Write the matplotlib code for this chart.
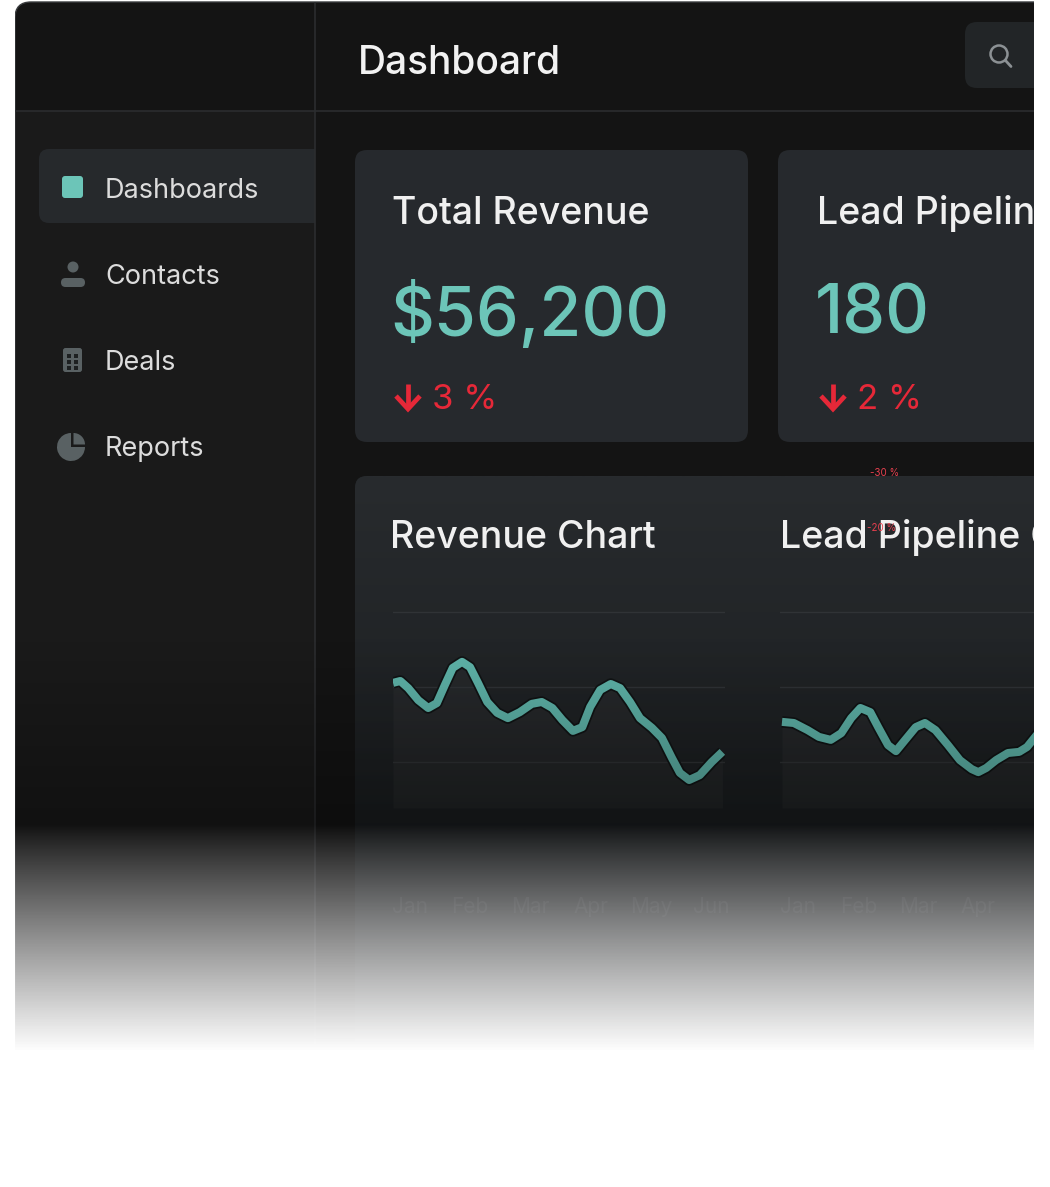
import numpy as np
import matplotlib
matplotlib.use("Agg")
import matplotlib.pyplot as plt
from matplotlib.patches import FancyBboxPatch, Rectangle, Circle, Wedge
import matplotlib.patheffects as pe

plt.rcParams['font.family'] = ['Inter', 'DejaVu Sans']

W, H = 1050, 1187

# ---- data ----
page_title = "Dashboard"
nav_items = ["Dashboards", "Contacts", "Deals", "Reports"]
kpi_titles = ["Total Revenue", "Lead Pipeline"]
kpi_values = ["$56,200", "180"]
kpi_changes = ["3 %", "2 %"]
chart_titles = ["Revenue Chart", "Lead Pipeline Chart"]
months = ["Jan", "Feb", "Mar", "Apr", "May", "Jun"]
month_pos = [0.25, 1.16, 2.07, 2.98, 3.89, 4.8]
stray_labels = ["-30 %", "-20 %"]
grid_vals = [20, 40, 60]

rev_x = [0.0, 0.11, 0.23, 0.38, 0.53, 0.66, 0.78, 0.9, 1.04, 1.16, 1.28, 1.42,
         1.57, 1.73, 1.91, 2.09, 2.24, 2.4, 2.55, 2.71, 2.85, 2.97, 3.12, 3.28,
         3.42, 3.57, 3.72, 3.9, 4.05, 4.2, 4.32, 4.46, 4.62, 4.8, 4.96]
rev_y = [41.1, 41.6, 39.7, 36.5, 34.4, 35.7, 40.5, 45.1, 46.7, 45.3, 41.1, 36.0,
         33.1, 31.7, 33.3, 35.5, 36.0, 34.4, 31.2, 28.3, 29.3, 34.7, 39.2, 40.8,
         39.7, 36.0, 31.7, 29.1, 26.4, 21.1, 17.1, 15.2, 16.5, 20.0, 22.7]

lead_x = [0.0, 0.18, 0.39, 0.56, 0.74, 0.9, 1.05, 1.19, 1.34, 1.46, 1.61, 1.73,
          1.87, 2.03, 2.17, 2.33, 2.52, 2.7, 2.88, 2.98, 3.1, 3.25, 3.43, 3.6,
          3.72, 3.89]
lead_y = [30.7, 30.4, 28.5, 26.7, 25.9, 27.7, 31.7, 34.4, 33.3, 29.3, 24.5, 22.9,
          25.9, 29.3, 30.4, 28.5, 24.5, 20.5, 18.1, 17.3, 18.4, 20.5, 22.4, 22.7,
          24.0, 27.7]

TEAL = "#6cc5b8"
RED = "#e62838"
ICON = "#596163"
LINE = "#2b2d2f"


def frac(x0, y0, x1, y1):
    return [x0 / W, 1 - y1 / H, (x1 - x0) / W, (y1 - y0) / H]


def rbox(ax, x, y, w, h, r, fc, **kw):
    p = FancyBboxPatch((x, y), w, h, boxstyle="round,pad=0,rounding_size=%g" % r,
                       fc=fc, ec=kw.pop("ec", "none"), **kw)
    ax.add_patch(p)
    return p


def down_arrow(ax, x, y):
    ax.plot([x, x], [y - 13, y + 11], color=RED, lw=3.4, solid_capstyle="butt")
    ax.plot([x - 12, x, x + 12], [y - 1, y + 12, y - 1], color=RED, lw=3.4,
            solid_joinstyle="miter", solid_capstyle="butt")


fig = plt.figure(figsize=(W / 100, H / 100), dpi=100)
fig.patch.set_facecolor("white")

bg = fig.add_axes([0, 0, 1, 1])
bg.set_xlim(0, W)
bg.set_ylim(H, 0)
bg.axis("off")

# window frame
rbox(bg, 15, 2, 1200, 1400, 16, "#141414", ec="#3a3c3e", lw=1)
bg.add_patch(Rectangle((15.5, 111), 299.5, H, fc="#1a1a1a", ec="none"))
bg.plot([15, W], [111, 111], color=LINE, lw=1.2)
bg.plot([315, 315], [2.5, H], color=LINE, lw=1.2)

# header
bg.text(358, 64, page_title, fontsize=28, color="#f2f2f2", va="center", fontweight="medium")
rbox(bg, 965, 22, 150, 66, 12, "#222527")
bg.add_patch(Circle((999, 54), 8.5, fill=False, ec="#8c9194", lw=1.8))
bg.plot([1005.5, 1011], [60.5, 66.5], color="#8c9194", lw=2, solid_capstyle="round")

# sidebar
hl = rbox(bg, 39, 149, 300, 74, 10, "#26292c")
hl.set_clip_path(Rectangle((0, 0), 314.5, H, transform=bg.transData))
rbox(bg, 62, 176, 21, 22, 3, TEAL)
nav_y = [191, 277, 363, 449]
for label, yy in zip(nav_items, nav_y):
    bg.text(105, yy, label, fontsize=19.5, color="#dcdcdc", va="center")
# contacts icon
bg.add_patch(Circle((73, 267), 5.5, fc=ICON, ec="none"))
rbox(bg, 61, 278, 24, 9, 4.5, ICON)
# deals icon
rbox(bg, 63, 348, 19, 24, 2.5, ICON)
for cx in (67, 74):
    for cy in (354, 360, 366):
        bg.add_patch(Rectangle((cx, cy), 4, 4, fc="#1d2021", ec="none"))
# reports icon
bg.add_patch(Wedge((71, 447), 14, 0, 270, fc=ICON, ec="none"))
bg.add_patch(Wedge((73.5, 444.5), 11.5, 270, 360, fc=ICON, ec="none"))

# kpi cards
card_x = [355, 778]
for i, cx in enumerate(card_x):
    rbox(bg, cx, 150, 393 if i == 0 else 400, 292, 12, "#26292d")
    tx = cx + 37 if i == 0 else cx + 39
    bg.text(tx, 214, kpi_titles[i], fontsize=27, color="#f0f0f0", va="center",
            fontweight="medium")
    bg.text(tx - 2, 316, kpi_values[i], fontsize=49, color=TEAL, va="center",
            fontweight="medium")
    down_arrow(bg, tx + 16, 397)
    bg.text(tx + 40, 400, kpi_changes[i], fontsize=25, color=RED, va="center")

# chart card with vertical gradient
chart_card = rbox(bg, 355, 476, 800, 900, 12, "#1b1e20")
c_top = np.array([0x28, 0x2b, 0x2e]) / 255
c_bot = np.array([0x1b, 0x1e, 0x20]) / 255
t = np.linspace(0, 1, 200)[:, None, None]
grad = c_top * (1 - t) + c_bot * t
im = bg.imshow(grad, extent=(355, 1155, 830, 476), aspect="auto", origin="upper",
               interpolation="bilinear", zorder=1.5)
im.set_clip_path(chart_card)

bg.text(390, 538, chart_titles[0], fontsize=27, color="#f0f0f0", va="center",
        fontweight="medium", zorder=3)
bg.text(780, 538, chart_titles[1], fontsize=27, color="#f0f0f0", va="center",
        fontweight="medium", zorder=3)
bg.text(885, 473, stray_labels[0], fontsize=7, color="#e8404f", ha="center", va="center", zorder=4)
bg.text(882, 528, stray_labels[1], fontsize=7, color="#e8404f", ha="center", va="center", zorder=4)

bg.set_xlim(0, W)
bg.set_ylim(H, 0)

# line charts
px_per_month = 66.4
y_lo = (837 - 808) / 3.75
y_hi = (837 - 600) / 3.75
specs = [
    (frac(393, 600, 725, 808), rev_x, rev_y, (0, 332 / px_per_month), 6),
    (frac(780, 600, 1034, 808), lead_x, lead_y,
     (-2 / px_per_month, 254 / px_per_month), 4),
]
for box, xs, ys, xl, n_lab in specs:
    ax = fig.add_axes(box)
    ax.patch.set_alpha(0)
    for s in ax.spines.values():
        s.set_visible(False)
    ax.set_yticks(grid_vals)
    ax.set_yticklabels([])
    ax.grid(axis="y", color="#303336", lw=1)
    ax.tick_params(axis="y", length=0)
    ax.set_xticks(month_pos[:n_lab])
    ax.set_xticklabels(months[:n_lab])
    ax.tick_params(axis="x", length=0, pad=64, labelsize=15, labelcolor="#2a2d30")
    ax.fill_between(xs, ys, y_lo, color="white", alpha=0.03, lw=0)
    ax.plot(xs, ys, color="#5fb5aa", lw=5.8, solid_joinstyle="round",
            solid_capstyle="butt",
            path_effects=[pe.Stroke(linewidth=8.3, foreground="#111415"), pe.Normal()])
    ax.set_xlim(*xl)
    ax.set_ylim(y_lo, y_hi)

# bottom fade overlay
ov = fig.add_axes([0, 0, 1, 1], zorder=10)
ov.set_xlim(0, W)
ov.set_ylim(H, 0)
ov.axis("off")
rows = np.arange(H) + 0.5
dark = np.clip((rows - 640) / 190, 0, 1) * 0.35
white = np.clip((rows - 825) / 225, 0, 1) ** 0.9
alpha = 1 - (1 - dark) * (1 - white)
grey = np.where(alpha > 0, white / np.maximum(alpha, 1e-6), 0)
rgba = np.stack([grey, grey, grey, alpha], axis=-1)[:, None, :]
ov.imshow(rgba, extent=(15, 1034, H, 0), aspect="auto", interpolation="bilinear")
ov.add_patch(Rectangle((0, 0), 14.5, H, fc="white", ec="none"))
ov.add_patch(Rectangle((1034, 0), 20, H, fc="white", ec="none"))
ov.set_xlim(0, W)
ov.set_ylim(H, 0)

fig.savefig("out.png", dpi=100)
